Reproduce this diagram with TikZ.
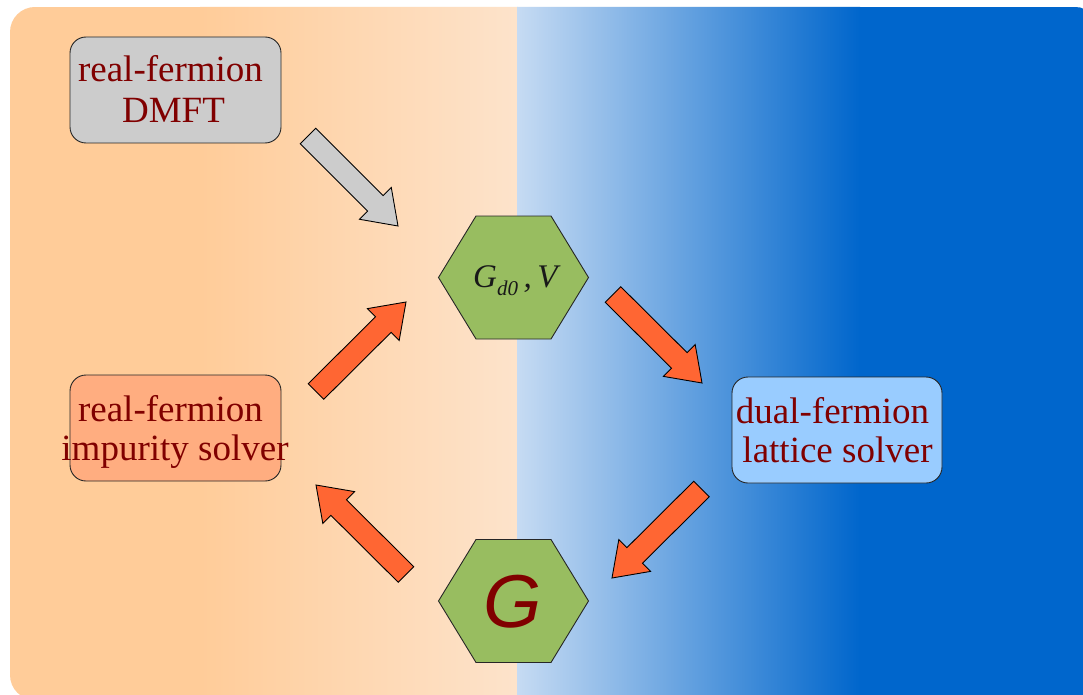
\documentclass[tikz,border=0pt]{standalone}
\usepackage{fontspec}
\setmainfont{Liberation Serif}
\newfontfamily\gsans{Liberation Sans}
\usetikzlibrary{calc}
\definecolor{peach}{HTML}{FFCC99}
\definecolor{peachlight}{HTML}{FDE3CB}
\definecolor{bluelight}{HTML}{C6DBF3}
\definecolor{bluedark}{HTML}{0066CC}
\definecolor{txtred}{HTML}{800000}
\definecolor{boxgray}{HTML}{CCCCCC}
\definecolor{boxorange}{HTML}{FFAD80}
\definecolor{boxblue}{HTML}{99CCFF}
\definecolor{hexgreen}{HTML}{98BD60}
\definecolor{arroworange}{HTML}{FF6633}
\tikzset{
  stepbox/.style={draw=black!85, line width=0.9pt, rounded corners=16pt,
    minimum width=211pt, minimum height=106pt, inner sep=0pt},
  boxtext/.style={text=txtred, inner sep=0pt, anchor=base,
    font=\fontsize{37}{40}\selectfont},
  hexstyle/.style={draw=black!85, line width=0.9pt, fill=hexgreen, line join=miter},
  blockstyle/.style={draw=black, line width=0.9pt, line join=miter},
}
\newcommand\blockarrow[3]{%
  \coordinate (ba-h) at ($(#2)!32pt!(#1)$);
  \draw[blockstyle, fill=#3]
    ($(#1)!11pt!90:(#2)$) -- ($(ba-h)!11pt!-90:(#1)$) -- ($(ba-h)!22.5pt!-90:(#1)$)
    -- (#2) -- ($(ba-h)!22.5pt!90:(#1)$) -- ($(ba-h)!11pt!90:(#1)$)
    -- ($(#1)!11pt!-90:(#2)$) -- cycle;
}
\newcommand\hexagon[2]{%
  \draw[hexstyle] ($(#1)+(-75,0)$) -- ($(#1)+(-37.5,-61.5)$) -- ($(#1)+(37.5,-61.5)$)
    -- ($(#1)+(75,0)$) -- ($(#1)+(37.5,61.5)$) -- ($(#1)+(-37.5,61.5)$) -- cycle;
}
\begin{document}
\begin{tikzpicture}[x=1pt,y=-1pt]
\useasboundingbox (0,0) rectangle (1083,695);
\fill[white] (0,0) rectangle (1083,695);
% background
\begin{scope}
  \clip[rounded corners=25pt] (10,7) rectangle (1100,700);
  \fill[peach] (10,7) rectangle (201,700);
  \shade[left color=peach, right color=peachlight] (200,7) rectangle (517.5,700);
  \shade[left color=bluelight, right color=bluedark] (517,7) rectangle (860,700);
  \fill[bluedark] (859,7) rectangle (1100,700);
\end{scope}
% boxes
\node[stepbox, fill=boxgray] (dmft) at (175.5,90) {};
\node[stepbox, fill=boxorange] (imp) at (175.5,428) {};
\node[stepbox, fill=boxblue, minimum width=210pt] (dual) at (837,430) {};
\node[boxtext] (dmftA) at (170.5,82) {real-fermion};
\node[boxtext] (dmftB) at (173.5,123) {DMFT};
\node[boxtext] (impA) at (170.5,421) {real-fermion};
\node[boxtext] (impB) at (175,460) {impurity solver};
\node[boxtext] (dualA) at (832.5,423) {dual-fermion};
\node[boxtext] (dualB) at (837.5,462) {lattice solver};
% hexagons
\coordinate (hexTop) at (513.5,277.5);
\coordinate (hexBot) at (513.5,601);
\hexagon{hexTop}{}
\hexagon{hexBot}{}
\node[inner sep=0pt, text=black!90, anchor=base west] (gdv) at (473,287)
  {\fontsize{33}{33}\selectfont\itshape G\raisebox{-8pt}{\fontsize{21}{21}\selectfont d0}\,,\,V};
\node[inner sep=0pt, text=txtred, anchor=base] (gbig) at (512.5,627)
  {\gsans\itshape\fontsize{75}{75}\selectfont G};
% block arrows
\coordinate (a1t) at (308,136);   \coordinate (a1h) at (398,226);
\coordinate (a2t) at (316,391.5); \coordinate (a2h) at (406,302);
\coordinate (a3t) at (613,294.5); \coordinate (a3h) at (702,383);
\coordinate (a4t) at (701.5,489); \coordinate (a4h) at (612,578);
\coordinate (a5t) at (406,574.5); \coordinate (a5h) at (316,485);
\blockarrow{a1t}{a1h}{boxgray}
\blockarrow{a2t}{a2h}{arroworange}
\blockarrow{a3t}{a3h}{arroworange}
\blockarrow{a4t}{a4h}{arroworange}
\blockarrow{a5t}{a5h}{arroworange}
\end{tikzpicture}
\end{document}
